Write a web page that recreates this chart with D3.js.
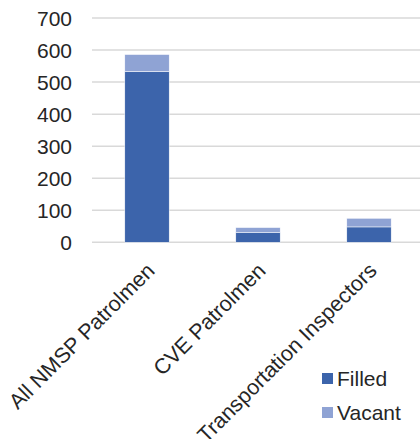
<!DOCTYPE html>
<html>
<head>
<meta charset="utf-8">
<script src="https://cdn.jsdelivr.net/npm/d3@7"></script>
<style>
  body { margin: 0; background: #fff; }
  svg { display: block; font-family: "Liberation Sans", Arial, sans-serif; }
</style>
</head>
<body>
<div id="chart"></div>
<script>
const categories = ["All NMSP Patrolmen", "CVE Patrolmen", "Transportation Inspectors"];
const filled = [533, 30, 48];
const vacant = [53, 16, 27];
const seriesNames = ["Filled", "Vacant"];
const yTicks = [0, 100, 200, 300, 400, 500, 600, 700];

const width = 420, height = 439;
const color = d3.scaleOrdinal().domain(seriesNames).range(["#3c64ab", "#8fa3d4"]);

const rows = categories.map((c, i) => ({ category: c, Filled: filled[i], Vacant: vacant[i] }));
const stacked = d3.stack().keys(seriesNames)(rows);

const x = d3.scaleBand().domain(categories).range([91.5, 424.5]).paddingInner(0.6).paddingOuter(0.3);
const y = d3.scaleLinear().domain([0, 700]).range([242.3, 18]);

const svg = d3.select("#chart").append("svg")
  .attr("width", width)
  .attr("height", height);

// gridlines
svg.append("g")
  .selectAll("line")
  .data(yTicks)
  .enter().append("line")
  .attr("x1", 92)
  .attr("x2", width)
  .attr("y1", d => y(d))
  .attr("y2", d => y(d))
  .attr("stroke", "#d9d9d9")
  .attr("stroke-width", 1.5);

// y tick labels
svg.append("g")
  .selectAll("text")
  .data(yTicks)
  .enter().append("text")
  .attr("x", 72)
  .attr("y", d => y(d))
  .attr("dy", "0.36em")
  .attr("text-anchor", "end")
  .style("font-size", "21px")
  .style("fill", "#262626")
  .text(d => d);

// bars
svg.append("g")
  .selectAll("g")
  .data(stacked)
  .enter().append("g")
  .attr("fill", d => color(d.key))
  .selectAll("rect")
  .data(d => d)
  .enter().append("rect")
  .attr("x", d => x(d.data.category))
  .attr("width", x.bandwidth())
  .attr("y", d => y(d[1]))
  .attr("height", d => y(d[0]) - y(d[1]))
  .attr("stroke", "#fff")
  .attr("stroke-width", 0.5);

// category labels
svg.append("g")
  .selectAll("text")
  .data(categories)
  .enter().append("text")
  .attr("transform", d => `translate(${x(d) + x.bandwidth() / 2 + 9}, 272) rotate(-45)`)
  .attr("text-anchor", "end")
  .style("font-size", "21.5px")
  .style("fill", "#262626")
  .text(d => d);

// legend
const legend = svg.append("g")
  .selectAll("g")
  .data(seriesNames)
  .enter().append("g")
  .attr("transform", (d, i) => `translate(322, ${373 + i * 34})`);

legend.append("rect")
  .attr("width", 11)
  .attr("height", 11)
  .attr("fill", d => color(d));

legend.append("text")
  .attr("x", 15)
  .attr("y", 13)
  .style("font-size", "21px")
  .style("fill", "#262626")
  .text(d => d);
</script>
</body>
</html>
